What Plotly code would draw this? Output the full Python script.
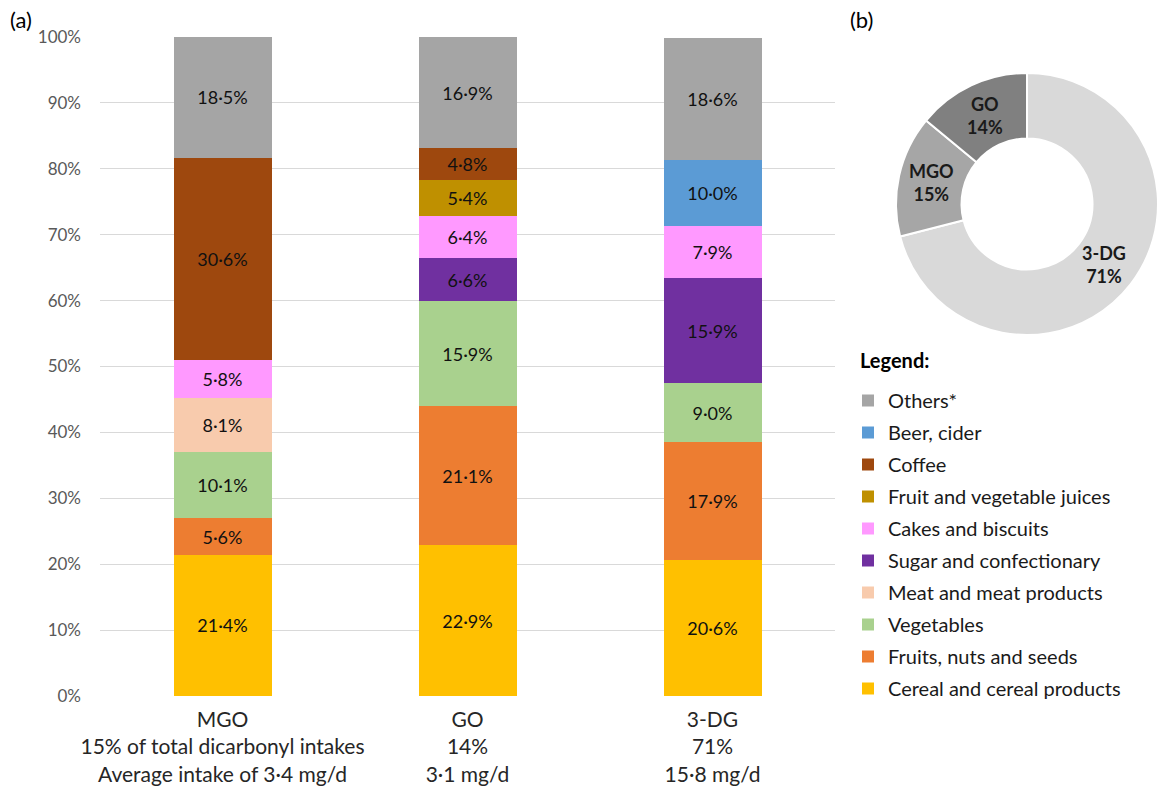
import math
import plotly.graph_objects as go

categories = ["MGO", "GO", "3-DG"]
tick_labels = [
    "MGO<br>15% of total dicarbonyl intakes<br>Average intake of 3·4 mg/d",
    "GO<br>14%<br>3·1 mg/d",
    "3-DG<br>71%<br>15·8 mg/d",
]

# stacked from bottom to top
series_names = [
    "Cereal and cereal products",
    "Fruits, nuts and seeds",
    "Vegetables",
    "Meat and meat products",
    "Sugar and confectionary",
    "Cakes and biscuits",
    "Fruit and vegetable juices",
    "Coffee",
    "Beer, cider",
    "Others*",
]
cereal = [21.4, 22.9, 20.6]
fruits = [5.6, 21.1, 17.9]
vegetables = [10.1, 15.9, 9.0]
meat = [8.1, 0, 0]
sugar = [0, 6.6, 15.9]
cakes = [5.8, 6.4, 7.9]
juices = [0, 5.4, 0]
coffee = [30.6, 4.8, 0]
beer = [0, 0, 10.0]
others = [18.5, 16.9, 18.6]
series_values = [cereal, fruits, vegetables, meat, sugar, cakes, juices, coffee, beer, others]

colors = ["#FFC000", "#ED7D31", "#A9D18E", "#F8CBAD", "#7030A0",
          "#FF99FF", "#BF9000", "#9E480E", "#5B9BD5", "#A5A5A5"]

pie_labels = ["3-DG", "MGO", "GO"]
pie_values = [71, 15, 14]
pie_colors = ["#D9D9D9", "#A6A6A6", "#808080"]

FONT = "Lato"
W, H = 1158, 791

fig = go.Figure()
for i, (name, vals, col) in enumerate(zip(series_names, series_values, colors)):
    fig.add_trace(go.Bar(
        x=categories, y=vals, name=name, marker_color=col,
        marker_line_width=0,
        legendgroup=name, legendrank=1000 - i,
        text=[(f"{v:.1f}%".replace(".", "·") if v else "") for v in vals],
        textposition="inside", insidetextanchor="middle", textangle=0,
        textfont=dict(family=FONT, size=18, color="#111111"),
        hoverinfo="skip",
    ))

pie_dom_x = [896 / W, 1.0]
pie_dom_y = [1 - 335 / H, 1 - 73 / H]
fig.add_trace(go.Pie(
    labels=pie_labels, values=pie_values, hole=0.5, sort=False,
    direction="clockwise", rotation=0,
    marker=dict(colors=pie_colors, line=dict(color="white", width=2)),
    textinfo="none", hoverinfo="skip",
    showlegend=False,
    domain=dict(x=pie_dom_x, y=pie_dom_y),
))

# slice labels placed at each slice's mid-angle (computed from the data)
cx = (pie_dom_x[0] + pie_dom_x[1]) / 2
cy = (pie_dom_y[0] + pie_dom_y[1]) / 2
r_px = 98
total = sum(pie_values)
pie_annots = []
cum = 0
for lab, v in zip(pie_labels, pie_values):
    mid = (cum + v / 2) / total * 2 * math.pi
    cum += v
    pie_annots.append(dict(
        text=f"<b>{lab}</b><br><b>{round(100 * v / total)}%</b>",
        x=cx + r_px * math.sin(mid) / W, y=cy + r_px * math.cos(mid) / H,
        xref="paper", yref="paper", xanchor="center", yanchor="middle",
        showarrow=False, font=dict(family=FONT, size=18, color="#1a1a1a"),
    ))

fig.update_layout(
    width=W, height=H,
    margin=dict(l=0, r=0, t=0, b=0, autoexpand=False),
    paper_bgcolor="white", plot_bgcolor="white",
    barmode="stack", bargap=0.6,
    font=dict(family=FONT, color="#262626"),
    xaxis=dict(domain=[100 / W, 835 / W], tickvals=categories, ticktext=tick_labels,
               tickfont=dict(size=21, color="#262626"), showgrid=False, zeroline=False,
               showline=False, ticks="", automargin=False, ticklabelstandoff=9),
    yaxis=dict(domain=[1 - 696 / H, 1 - 37 / H], range=[0, 100], dtick=10, ticksuffix="%",
               tickfont=dict(size=17, color="#595959"), gridcolor="#D9D9D9", gridwidth=1,
               zeroline=False, showline=False, ticklabelstandoff=18, automargin=False),
    legend=dict(x=848 / W, y=1 - 381 / H, xanchor="left", yanchor="top",
                traceorder="grouped", tracegroupgap=3,
                font=dict(size=20, color="#1a1a1a"), bgcolor="rgba(0,0,0,0)"),
    annotations=[
        dict(text="(a)", x=8 / W, y=1 - 20 / H, xref="paper", yref="paper",
             xanchor="left", yanchor="middle", showarrow=False,
             font=dict(size=22, color="black")),
        dict(text="(b)", x=848 / W, y=1 - 20 / H, xref="paper", yref="paper",
             xanchor="left", yanchor="middle", showarrow=False,
             font=dict(size=22, color="black")),
        dict(text="<b>Legend:</b>", x=858 / W, y=1 - 360 / H, xref="paper", yref="paper",
             xanchor="left", yanchor="middle", showarrow=False,
             font=dict(size=20, color="black")),
    ] + pie_annots,
)

fig.write_html("out.html")
